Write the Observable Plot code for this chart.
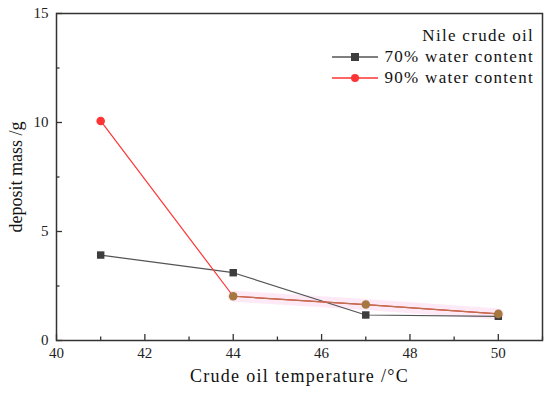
<!DOCTYPE html>
<html><head><meta charset="utf-8">
<script src="https://cdn.jsdelivr.net/npm/d3@7"></script>
<script src="https://cdn.jsdelivr.net/npm/@observablehq/plot@0.6"></script>
<style>
html,body{margin:0;padding:0;background:#fff;}
#wrap{position:relative;width:550px;height:396px;font-family:"Liberation Serif","Times New Roman","DejaVu Serif",serif;}
#wrap svg text{font-family:"Liberation Serif","Times New Roman","DejaVu Serif",serif;}
#legend{position:absolute;right:16px;top:25px;font-size:17px;letter-spacing:1.3px;color:#111;text-align:right;line-height:21px;}
#legend .row{display:flex;align-items:center;justify-content:flex-end;}
#legend svg{margin-right:6px;}
</style></head>
<body><div id="wrap"><div id="legend"></div></div>
<script>
const temperatures = [41, 44, 47, 50];
const water70 = [3.92, 3.11, 1.17, 1.11];
const water90 = [10.07, 2.03, 1.65, 1.22];
const xMajorTicks = [40, 42, 44, 46, 48, 50];
const xMinorTicks = [41, 43, 45, 47, 49, 51];
const yMajorTicks = [0, 5, 10, 15];
const yMinorTicks = [2.5, 7.5, 12.5];
const xTitle = "Crude oil temperature /°C";
const yTitle = "deposit mass /g";
const legendTitle = "Nile crude oil";
const seriesNames = ["70% water content", "90% water content"];

const d70 = temperatures.map((t, i) => ({x: t, y: water70[i]}));
const d90 = temperatures.map((t, i) => ({x: t, y: water90[i]}));
const red = "#ff3535", brown = "#a67840", dark = "#3d3d3d";
const serif = '"Liberation Serif", "Times New Roman", serif';

const chart = Plot.plot({
  width: 550, height: 396,
  marginLeft: 56, marginRight: 8, marginTop: 13, marginBottom: 56,
  style: {fontFamily: serif, fontSize: "15px", color: "#222", background: "#fff"},
  x: {domain: [40, 51], label: null},
  y: {domain: [0, 15], label: null},
  marks: [
    Plot.line(d90.slice(1), {x: "x", y: "y", stroke: "#fdeaf6", strokeWidth: 11}),
    Plot.line(d70, {x: "x", y: "y", stroke: "#555", strokeWidth: 1.2}),
    Plot.line(d90, {x: "x", y: "y", stroke: red, strokeWidth: 1.2}),
    Plot.line(d90.slice(1), {x: "x", y: "y", stroke: "#b87352", strokeWidth: 1.2}),
    Plot.dot(d70, {x: "x", y: "y", symbol: "square", r: 4.2, fill: dark}),
    Plot.dot(d90, {x: "x", y: "y", symbol: "circle", r: 4.3, fill: (d, i) => i === 0 ? red : brown}),
    Plot.frame({stroke: "#333", strokeWidth: 1.5}),
    Plot.axisX({ticks: xMajorTicks, tickSize: -6, text: null, label: null, stroke: "#333", strokeWidth: 1.3}),
    Plot.axisX({ticks: xMinorTicks, tickSize: -3.5, text: null, label: null, stroke: "#333", strokeWidth: 1.3}),
    Plot.axisX({ticks: xMajorTicks, tickSize: 0, tickPadding: 7, fontSize: 15, fontFamily: serif, label: null, fill: "#222"}),
    Plot.axisY({ticks: yMajorTicks, tickSize: -6, text: null, label: null, stroke: "#333", strokeWidth: 1.3}),
    Plot.axisY({ticks: yMinorTicks, tickSize: -3.5, text: null, label: null, stroke: "#333", strokeWidth: 1.3}),
    Plot.axisY({ticks: yMajorTicks, tickSize: 0, tickPadding: 8, fontSize: 15, fontFamily: serif, label: null, fill: "#222"}),
    Plot.text([xTitle], {frameAnchor: "bottom", dy: 41, fontSize: 18, fontFamily: serif, fill: "#111"}),
    Plot.text([yTitle], {frameAnchor: "left", textAnchor: "middle", dx: -40, rotate: -90, fontSize: 18, fontFamily: serif, fill: "#111"})
  ]
});
d3.select(chart).selectAll("text").filter(function() { return this.textContent === xTitle; })
  .style("letter-spacing", "1.3px");
document.getElementById("wrap").prepend(chart);

const legend = document.getElementById("legend");
const t = document.createElement("div"); t.textContent = legendTitle; legend.appendChild(t);
seriesNames.forEach((name, i) => {
  const row = document.createElement("div"); row.className = "row";
  const sw = i === 0
    ? `<svg width="46" height="12"><line x1="0" y1="6" x2="46" y2="6" stroke="#555" stroke-width="1.3"/><rect x="19" y="2" width="8" height="8" fill="${dark}"/></svg>`
    : `<svg width="46" height="12"><line x1="0" y1="6" x2="46" y2="6" stroke="${red}" stroke-width="1.3"/><circle cx="23" cy="6" r="4" fill="${red}"/></svg>`;
  row.innerHTML = sw + `<span>${name}</span>`;
  legend.appendChild(row);
});
</script></body></html>
